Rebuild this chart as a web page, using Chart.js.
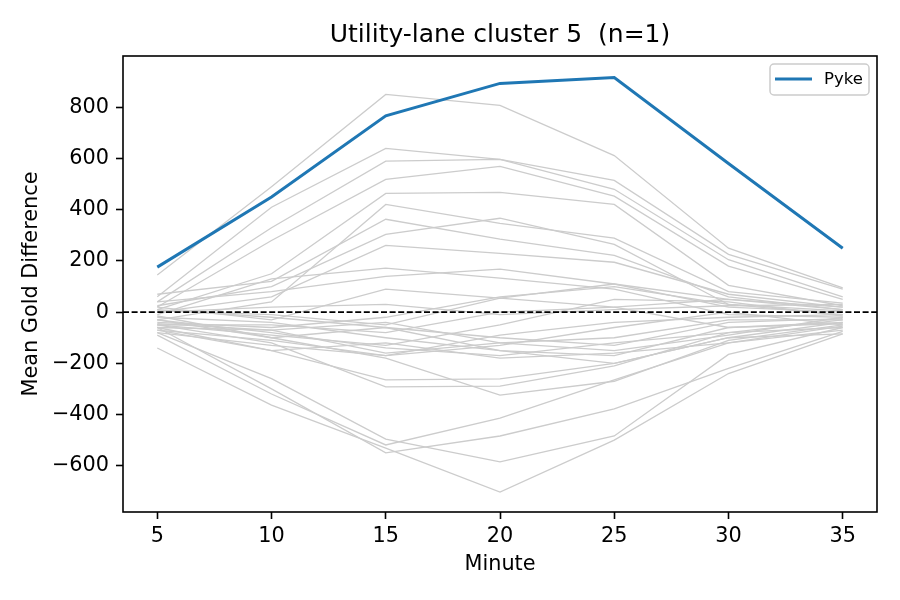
<!DOCTYPE html>
<html>
<head>
<meta charset="utf-8">
<script src="https://cdn.jsdelivr.net/npm/chart.js@4.4.1/dist/chart.umd.min.js"></script>
<style>
  html, body { margin: 0; padding: 0; background: #ffffff; }
  #wrap { width: 900px; height: 600px; }
</style>
</head>
<body>
<div id="wrap"><canvas id="chart" width="900" height="600"></canvas></div>
<script>
// ── Data ──────────────────────────────────────────────────────────────────
const minutes = [5, 10, 15, 20, 25, 30, 35];
const xTicks  = [5, 10, 15, 20, 25, 30, 35];
const yTicks  = [-600, -400, -200, 0, 200, 400, 600, 800];

const highlightName = "Pyke";
const highlightVals = [176, 450, 767, 894, 917, 581, 250];

// other champions in the utility lane (background lines)
const upper1  = [145, 490, 851, 808, 612, 250, 95];
const upper2  = [60, 410, 640, 597, 515, 226, 90];
const upper3  = [40, 330, 590, 597, 480, 205, 60];
const upper4  = [20, 280, 519, 570, 453, 180, 50];
const upper5  = [10, 150, 464, 468, 421, 105, 25];
const upper6  = [-30, 40, 421, 347, 289, 80, 35];
const upper7  = [70, 120, 363, 285, 222, 60, 10];
const upper8  = [25, 100, 304, 367, 265, 30, -10];
const upper9  = [0, 60, 261, 230, 195, 70, 20];
const upper10 = [40, 80, 140, 168, 110, 20, 0];
const upper11 = [-10, 130, 172, 133, 90, -10, -20];

const mid1  = [20, -30, 90, 55, 110, 50, 10];
const mid2  = [-40, -60, -20, 60, 100, 30, 5];
const mid3  = [-50, -90, -130, -50, 50, 40, -15];
const mid4  = [-60, -70, -160, -120, -100, -30, -30];
const mid5  = [-20, -40, -100, -150, -170, -60, -40];
const mid6  = [10, -20, -60, -100, -130, -40, -25];
const mid7  = [-70, -110, -170, -130, -60, 0, -50];
const mid8  = [-30, -80, -140, -170, -120, -80, -60];
const mid9  = [-50, -50, -80, 0, 20, 50, 20];
const mid10 = [-15, -100, -60, -150, -200, -100, -85];
const mid11 = [0, 20, 30, -10, 10, 25, 30];
const mid12 = [-80, -130, -170, -90, -40, -20, -10];
const mid13 = [-60, -150, -120, -180, -160, -120, -70];
const mid14 = [5, -10, -50, 55, 20, -60, -45];
const mid15 = [-45, -70, -40, -120, -150, -90, -20];

const lower1 = [-140, -363, -531, -703, -500, -240, -85];
const lower2 = [-80, -260, -496, -585, -484, -165, -60];
const lower3 = [-60, -300, -550, -484, -378, -220, -75];
const lower4 = [-90, -320, -519, -414, -265, -120, -55];
const lower5 = [-70, -150, -265, -261, -200, -100, -40];
const lower6 = [-50, -120, -292, -289, -210, -80, -30];
const lower7 = [-30, -100, -180, -324, -270, -110, -50];

const backgroundSeries = [
  upper1, upper2, upper3, upper4, upper5, upper6, upper7, upper8, upper9, upper10, upper11,
  mid1, mid2, mid3, mid4, mid5, mid6, mid7, mid8, mid9, mid10, mid11, mid12, mid13, mid14, mid15,
  lower1, lower2, lower3, lower4, lower5, lower6, lower7,
];

// ── Styling ───────────────────────────────────────────────────────────────
const FONT = "'DejaVu Sans', sans-serif";
const BLUE = "#1f77b4";
const GREY = "#cccccc";

const toPoints = vals => vals.map((v, i) => ({ x: minutes[i], y: v }));
const fmtTick = v => (v < 0 ? "\u2212" + Math.abs(v) : String(v));

// Frame, zero line, title, axis labels, legend (matplotlib look)
const decorations = {
  id: "decorations",
  afterDatasetsDraw(chart) {
    const { ctx, chartArea: a, scales } = chart;
    const y0 = scales.y.getPixelForValue(0);
    ctx.save();
    ctx.strokeStyle = "#000000";
    ctx.lineWidth = 1.6;
    ctx.setLineDash([6, 2.6]);
    ctx.beginPath();
    ctx.moveTo(a.left, y0);
    ctx.lineTo(a.right, y0);
    ctx.stroke();
    ctx.restore();
  },
  afterDraw(chart) {
    const { ctx, chartArea: a } = chart;
    ctx.save();
    // frame
    ctx.strokeStyle = "#000000";
    ctx.lineWidth = 1.6;
    ctx.strokeRect(a.left, a.top, a.right - a.left, a.bottom - a.top);

    // title
    ctx.fillStyle = "#000000";
    ctx.textAlign = "center";
    ctx.textBaseline = "middle";
    ctx.font = "25px " + FONT;
    ctx.fillText("Utility-lane cluster 5  (n=1)", (a.left + a.right) / 2, 35);

    // axis labels
    ctx.font = "20.8px " + FONT;
    ctx.fillText("Minute", (a.left + a.right) / 2, 565);
    ctx.translate(32, (a.top + a.bottom) / 2);
    ctx.rotate(-Math.PI / 2);
    ctx.fillText("Mean Gold Difference", 0, 0);
    ctx.setTransform(1, 0, 0, 1, 0, 0);

    // legend
    const bx = a.right - 107, by = a.top + 8, bw = 99, bh = 31;
    ctx.fillStyle = "rgba(255,255,255,0.8)";
    ctx.strokeStyle = "#cccccc";
    ctx.lineWidth = 1.5;
    ctx.beginPath();
    ctx.roundRect(bx, by, bw, bh, 4);
    ctx.fill();
    ctx.stroke();
    ctx.strokeStyle = BLUE;
    ctx.lineWidth = 3;
    ctx.beginPath();
    ctx.moveTo(bx + 5, by + 15);
    ctx.lineTo(bx + 42, by + 15);
    ctx.stroke();
    ctx.fillStyle = "#000000";
    ctx.textAlign = "left";
    ctx.font = "16.5px " + FONT;
    ctx.fillText(highlightName, bx + 54, by + 16);
    ctx.restore();
  },
};

const datasets = backgroundSeries.map(vals => ({
  data: toPoints(vals),
  borderColor: GREY,
  borderWidth: 1.3,
  pointRadius: 0,
  tension: 0,
  order: 2,
}));
datasets.push({
  label: highlightName,
  data: toPoints(highlightVals),
  borderColor: BLUE,
  borderWidth: 3,
  pointRadius: 0,
  tension: 0,
  order: 0,
});

new Chart(document.getElementById("chart"), {
  type: "line",
  data: { datasets },
  options: {
    responsive: false,
    devicePixelRatio: 1,
    animation: false,
    layout: { padding: { left: 0, top: 56, right: 23, bottom: 0 } },
    plugins: { legend: { display: false }, title: { display: false }, tooltip: { enabled: false } },
    scales: {
      x: {
        type: "linear",
        min: 3.5,
        max: 36.5,
        afterBuildTicks: s => { s.ticks = xTicks.map(v => ({ value: v })); },
        afterFit: s => { s.height = 88; },
        grid: { drawOnChartArea: false, drawTicks: true, tickLength: 7, tickWidth: 1.6, tickColor: "#000000" },
        border: { display: false },
        ticks: { color: "#000000", font: { family: FONT, size: 20.8 }, padding: 5, maxRotation: 0, callback: v => fmtTick(v) },
      },
      y: {
        type: "linear",
        min: -781,
        max: 1001,
        afterBuildTicks: s => { s.ticks = yTicks.map(v => ({ value: v })); },
        afterFit: s => { s.width = 123; },
        grid: { drawOnChartArea: false, drawTicks: true, tickLength: 7, tickWidth: 1.6, tickColor: "#000000" },
        border: { display: false },
        ticks: { color: "#000000", font: { family: FONT, size: 20.8 }, padding: 7, callback: v => fmtTick(v) },
      },
    },
  },
  plugins: [decorations],
});
</script>
</body>
</html>
